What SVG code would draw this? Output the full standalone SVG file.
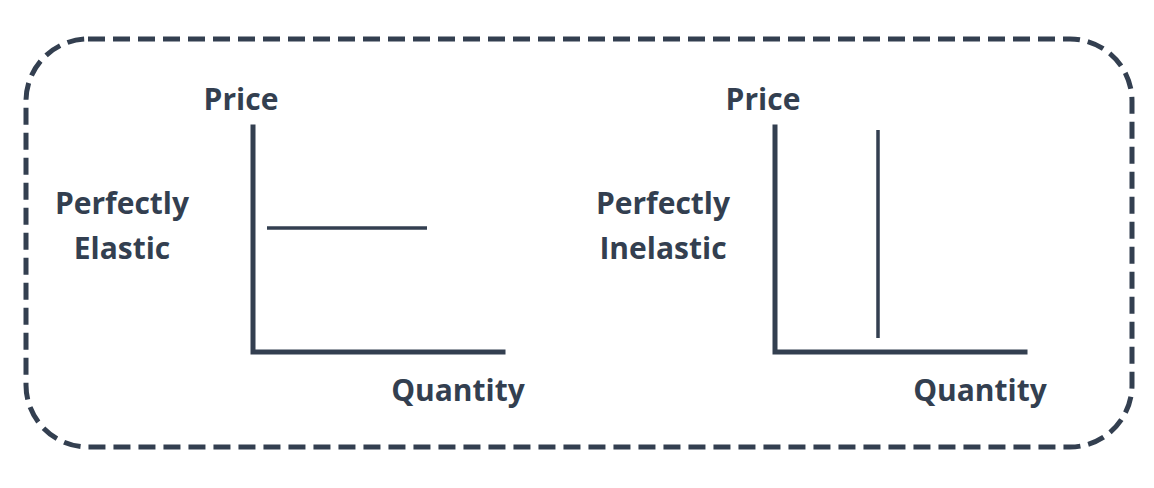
<svg xmlns="http://www.w3.org/2000/svg" width="1154" height="488" viewBox="0 0 1154 488">
<style>
.t{font-family:"Open Sans","Noto Sans","Liberation Sans",sans-serif;font-weight:bold;font-size:30px;fill:#333F50}
.axis{stroke:#333F50;stroke-width:5;fill:none;stroke-linecap:square}
.curve{stroke:#333F50;stroke-width:3.5;fill:none}
.frame{stroke:#333F50;stroke-width:5;fill:none;stroke-dasharray:17 8}
</style>
<rect width="1154" height="488" fill="#ffffff"/>
<rect class="frame" x="26" y="39" width="1106" height="408" rx="62" ry="62"/>
<g id="elastic">
<text class="t" x="241" y="110" text-anchor="middle">Price</text>
<text class="t" x="122" y="214" text-anchor="middle">Perfectly</text>
<text class="t" x="122" y="259" text-anchor="middle">Elastic</text>
<text class="t" x="458" y="401" text-anchor="middle">Quantity</text>
</g>
<g id="inelastic">
<text class="t" x="763" y="110" text-anchor="middle">Price</text>
<text class="t" x="663" y="214" text-anchor="middle">Perfectly</text>
<text class="t" x="663" y="259" text-anchor="middle">Inelastic</text>
<text class="t" x="980" y="401" text-anchor="middle">Quantity</text>
</g>
<g id="connectors">
<path class="axis" d="M253 127 V352 H503"/>
<path class="curve" d="M267 228 H427"/>
<path class="axis" d="M775 127 V352 H1025"/>
<path class="curve" d="M878 130 V338"/>
</g>
</svg>
